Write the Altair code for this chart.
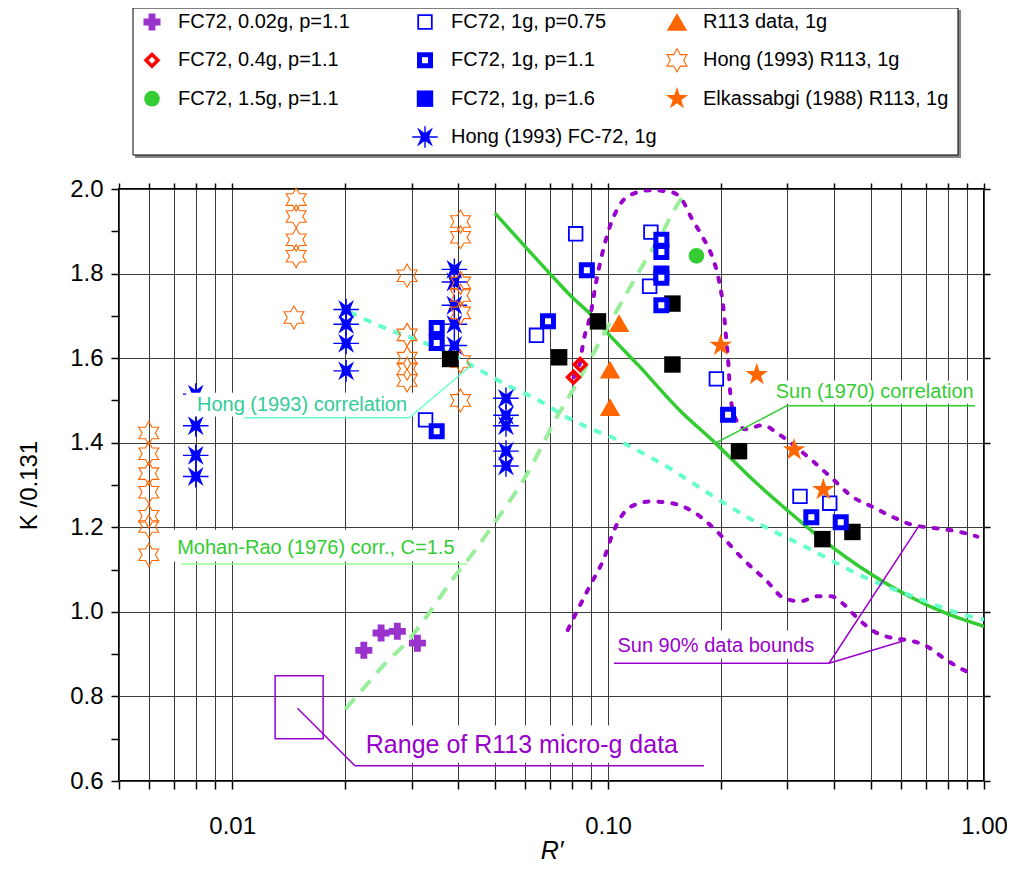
import altair as alt
import pandas as pd

FONT = "Liberation Sans"

# ---------------- data ----------------
# FC72, 0.02g, p=1.1
fc72_002g_R = [0.0224, 0.0249, 0.0275, 0.0311]
fc72_002g_K = [0.909, 0.950, 0.954, 0.926]
# FC72, 0.4g, p=1.1
fc72_04g_R = [0.0809, 0.0843]
fc72_04g_K = [1.555, 1.585]
# FC72, 1.5g, p=1.1
fc72_15g_R = [0.1718]
fc72_15g_K = [1.842]
# FC72, 1g, p=0.75
fc72_075_R = [0.0327, 0.0645, 0.0820, 0.1300, 0.1290, 0.1941, 0.3240, 0.3887]
fc72_075_K = [1.454, 1.654, 1.894, 1.898, 1.770, 1.551, 1.273, 1.257]
# FC72, 1g, p=1.1
fc72_11_R = [0.035, 0.035, 0.035, 0.0692, 0.0878, 0.1386, 0.1386, 0.1386,
             0.1386, 0.1386, 0.2085, 0.3473, 0.4158]
fc72_11_K = [1.671, 1.636, 1.427, 1.687, 1.808, 1.880, 1.851, 1.800,
             1.790, 1.725, 1.466, 1.224, 1.212]
# FC72, 1g, p=1.6
fc72_16_R = [0.0380, 0.0741, 0.0940, 0.1483, 0.1483, 0.2230, 0.3716, 0.4466]
fc72_16_K = [1.598, 1.602, 1.687, 1.729, 1.585, 1.380, 1.172, 1.189]
# Hong (1993) FC-72, 1g
hong_fc72_R = [0.008, 0.008, 0.008, 0.008,
               0.0201, 0.0201, 0.0201, 0.0201,
               0.039, 0.039, 0.039, 0.039, 0.039,
               0.0535, 0.0535, 0.0535, 0.0535, 0.0535]
hong_fc72_K = [1.515, 1.440, 1.370, 1.320,
               1.715, 1.680, 1.635, 1.570,
               1.810, 1.780, 1.725, 1.680, 1.630,
               1.505, 1.465, 1.440, 1.380, 1.345]
# R113 data, 1g
r113_R = [0.1070, 0.1012, 0.1012]
r113_K = [1.683, 1.573, 1.484]
# Hong (1993) R113, 1g
hong_r113_R = [0.0060, 0.0060, 0.0060, 0.0060, 0.0060, 0.0060, 0.0060,
               0.0148, 0.0148, 0.0148, 0.0148, 0.0146,
               0.0292, 0.0292, 0.0292, 0.0292, 0.0292,
               0.0405, 0.0405, 0.0405, 0.0405, 0.0405, 0.0405, 0.0405]
hong_r113_K = [1.423, 1.374, 1.327, 1.283, 1.226, 1.202, 1.135,
               1.975, 1.935, 1.880, 1.841, 1.696,
               1.795, 1.655, 1.600, 1.575, 1.547,
               1.923, 1.886, 1.778, 1.748, 1.707, 1.592, 1.500]
# Elkassabgi (1988) R113, 1g
elk_R = [0.1993, 0.2486, 0.3124, 0.3738]
elk_K = [1.630, 1.561, 1.383, 1.289]

# correlations
sun_R = [0.05, 0.06, 0.07, 0.08, 0.09, 0.10, 0.121, 0.1545, 0.193, 0.2396,
         0.30, 0.353, 0.465, 0.632, 0.80, 1.0]
sun_K = [1.943, 1.865, 1.800, 1.745, 1.703, 1.658, 1.581, 1.478, 1.399, 1.317,
         1.240, 1.187, 1.108, 1.037, 0.995, 0.966]
hong_corr_R = [0.0205, 0.0262, 0.0308, 0.0409, 0.0453, 0.0502, 0.0556, 0.0655,
               0.077, 0.0889, 0.107, 0.1185, 0.148, 0.171, 0.241, 0.347, 0.475,
               0.645, 0.95, 1.0]
hong_corr_K = [1.709, 1.667, 1.644, 1.596, 1.573, 1.551, 1.530, 1.500,
               1.462, 1.435, 1.405, 1.384, 1.336, 1.300, 1.218, 1.147, 1.084,
               1.037, 0.986, 0.982]
mohan_R = [0.020, 0.0222, 0.0256, 0.029, 0.0334, 0.0385, 0.0444, 0.0502, 0.0603,
           0.0741, 0.0837, 0.0966, 0.1114, 0.1256, 0.142, 0.1483, 0.162]
mohan_K = [0.770, 0.816, 0.879, 0.926, 0.997, 1.076, 1.147, 1.214, 1.320,
           1.470, 1.549, 1.651, 1.750, 1.830, 1.910, 1.943, 1.995]
# Sun 90% data bounds
bound_up_R = [0.081, 0.0837, 0.0862, 0.090, 0.0925, 0.0966, 0.1005, 0.107, 0.116,
              0.130, 0.145, 0.155, 0.167, 0.178, 0.189, 0.197, 0.203, 0.206,
              0.209, 0.211, 0.217, 0.232, 0.257, 0.287, 0.320, 0.352, 0.395,
              0.447, 0.503, 0.567, 0.643, 0.74, 0.853, 0.96]
bound_up_K = [1.555, 1.580, 1.644, 1.707, 1.770, 1.849, 1.904, 1.960, 1.988,
              1.997, 1.994, 1.982, 1.930, 1.888, 1.841, 1.786, 1.713, 1.650,
              1.585, 1.525, 1.462, 1.432, 1.441, 1.418, 1.386, 1.355, 1.315,
              1.272, 1.249, 1.226, 1.206, 1.198, 1.190, 1.178]
bound_lo_R = [0.0781, 0.0826, 0.0899, 0.0978, 0.1029, 0.1083, 0.1177, 0.1305,
              0.1478, 0.171, 0.2015, 0.2283, 0.2642, 0.293, 0.3246, 0.36, 0.391,
              0.4245, 0.4609, 0.5114, 0.579, 0.628, 0.696, 0.7867, 0.871, 0.935]
bound_lo_K = [0.957, 1.001, 1.065, 1.129, 1.185, 1.225, 1.253, 1.261,
              1.257, 1.233, 1.177, 1.125, 1.073, 1.033, 1.025, 1.037, 1.037,
              1.017, 0.985, 0.953, 0.937, 0.933, 0.921, 0.889, 0.865, 0.853]

# annotation texts and anchors (data units)
label_texts = ["Hong (1993) correlation", "Mohan-Rao (1976) corr., C=1.5",
               "Sun (1970) correlation", "Sun 90% data bounds",
               "Range of R113 micro-g data"]
label_R = [0.00806, 0.00714, 0.2793, 0.1059, 0.02267]
label_K = [1.490, 1.152, 1.519, 0.919, 0.686]
# white label backgrounds
box_R1 = [0.00755, 0.00693, 0.268, 0.1019, 0.0218]
box_R2 = [0.0303, 0.0419, 0.970, 0.367, 0.175]
box_K1 = [1.518, 1.194, 1.547, 0.956, 0.731]
box_K2 = [1.462, 1.119, 1.492, 0.889, 0.643]
# leader lines (polylines)
lead_hong = [(0.01076, 1.459), (0.0296, 1.459), (0.0435, 1.585)]
lead_mohan = [(0.00732, 1.113), (0.0422, 1.113)]
lead_sun = [(0.946, 1.4876), (0.2993, 1.4876), (0.1934, 1.3994)]
lead_b1 = [(0.1037, 0.8785), (0.387, 0.8785), (0.670, 1.202)]
lead_b2 = [(0.387, 0.8785), (0.619, 0.933)]
lead_range = [(0.180, 0.6363), (0.0212, 0.6363), (0.01492, 0.772)]
range_box_R = [0.01301, 0.01746]
range_box_K = [0.700, 0.849]

# legend
legend_cols = [
    ["FC72, 0.02g, p=1.1", "FC72, 0.4g, p=1.1", "FC72, 1.5g, p=1.1"],
    ["FC72, 1g, p=0.75", "FC72, 1g, p=1.1", "FC72, 1g, p=1.6", "Hong (1993) FC-72, 1g"],
    ["R113 data, 1g", "Hong (1993) R113, 1g", "Elkassabgi (1988) R113, 1g"],
]

# ---------------- styling ----------------
BLUE, ORANGE, PURPLE = "#0000FF", "#FF6600", "#9900CC"
HEXAGRAM = ("M0,-1L0.2887,-0.5L0.866,-0.5L0.577,0L0.866,0.5L0.2887,0.5L0,1"
            "L-0.2887,0.5L-0.866,0.5L-0.577,0L-0.866,-0.5L-0.2887,-0.5Z")
ASTER = ("M0,-0.3L0.62,-0.74L0.3,0L0.62,0.74L0,0.3L-0.62,0.74L-0.3,0L-0.62,-0.74Z"
         "M-1,-0.055L1,-0.055L1,0.055L-1,0.055Z"
         "M-0.055,-0.85L0.055,-0.85L0.055,0.85L-0.055,0.85Z")
STAR5 = ("M0,-1L0.2245,-0.309L0.9511,-0.309L0.3633,0.118L0.5878,0.809L0,0.382"
         "L-0.5878,0.809L-0.3633,0.118L-0.9511,-0.309L-0.2245,-0.309Z")

S_CROSS = dict(shape="cross", size=290, filled=True, color="#9933CC")
S_DIAM = dict(shape="diamond", size=140, filled=False, color="#FF0000", strokeWidth=3.5)
S_CIRC = dict(shape="circle", size=245, filled=True, color="#33CC33")
S_SQ_THIN = dict(shape="square", size=185, filled=False, color=BLUE, strokeWidth=1.8, fill="white")
S_SQ_THICK = dict(shape="square", size=121, filled=False, color=BLUE, strokeWidth=5, fill="white")
S_SQ_BLACK = dict(shape="square", size=270, filled=True, color="#000000")
S_SQ_BLUE = dict(shape="square", size=270, filled=True, color=BLUE)
S_ASTER = dict(shape=ASTER, size=650, filled=True, color=BLUE)
S_TRI = dict(shape="triangle-up", size=420, filled=True, color=ORANGE)
S_HEX = dict(shape=HEXAGRAM, size=530, filled=False, color=ORANGE, strokeWidth=1.1)
S_STAR = dict(shape=STAR5, size=560, filled=True, color=ORANGE)

XS = alt.Scale(type="log", domain=[0.005, 1.0], nice=False)
YS = alt.Scale(type="linear", domain=[0.6, 2.0], nice=False, zero=False)

X_GRID = [round(m * 10.0 ** e, 4) for e in (-3, -2, -1) for m in range(1, 10)
          if m * 10.0 ** e > 0.0049] + [1.0]
Y_TICKS = [round(0.6 + 0.1 * i, 1) for i in range(15)]
Y_MAJOR = [round(0.6 + 0.2 * i, 1) for i in range(8)]

axis_bottom = alt.Axis(
    orient="bottom", values=X_GRID, grid=True, gridColor="#3c3c3c", gridWidth=1,
    domain=False, tickColor="black", tickWidth=1.5, tickSize=8,
    labelExpr="datum.value == 0.01 ? '0.01' : datum.value == 0.1 ? '0.10' : datum.value == 1 ? '1.00' : ''",
    labelFontSize=24, labelColor="black", labelPadding=25, labelOverlap=False,
    labelFlush=False, title="R′", titleFontSize=25, titleFontStyle="italic",
    titleFontWeight="normal", titleColor="black", titlePadding=0)
axis_left = alt.Axis(
    orient="left", values=Y_TICKS, grid=False,
    domain=False, tickColor="black", tickWidth=1.5, tickSize=8,
    labelExpr="(abs(datum.value * 5 - round(datum.value * 5)) < 0.001) ? format(datum.value, '.1f') : ''",
    labelFontSize=24, labelColor="black", labelPadding=8, labelOverlap=False,
    labelFlush=False, title="K /0.131", titleFontSize=24, titleFontWeight="normal",
    titleColor="black", titlePadding=28)
axis_top = alt.Axis(
    orient="top", values=X_GRID, grid=False, domain=False, labels=False, title=None,
    tickColor="black", tickWidth=1.5, tickSize=6)
axis_right = alt.Axis(
    orient="right", values=Y_MAJOR, grid=True, gridColor="#3c3c3c", gridWidth=1,
    domain=False, labels=False, title=None,
    tickColor="black", tickWidth=1.5, tickSize=6)


def frame(R, K):
    return pd.DataFrame({"R": R, "K": K})


def xy(ax=None, ay=None):
    return dict(x=alt.X("R:Q", scale=XS, axis=ax), y=alt.Y("K:Q", scale=YS, axis=ay))


def curve(R, K, color, width, dash=None, cap="butt", ax=None, ay=None):
    kw = dict(color=color, strokeWidth=width, interpolate="monotone", strokeCap=cap, clip=True)
    if dash:
        kw["strokeDash"] = dash
    return alt.Chart(frame(R, K)).mark_line(**kw).encode(**xy(ax, ay))


def points(R, K, style):
    return alt.Chart(frame(R, K)).mark_point(opacity=1, **style).encode(**xy())


def leader(pts, color):
    segs = pd.DataFrame({"x1": [p[0] for p in pts[:-1]], "x2": [p[0] for p in pts[1:]],
                         "y1": [p[1] for p in pts[:-1]], "y2": [p[1] for p in pts[1:]]})
    return alt.Chart(segs).mark_rule(color=color, strokeWidth=1.5).encode(
        x=alt.X("x1:Q", scale=XS, axis=None), x2="x2:Q",
        y=alt.Y("y1:Q", scale=YS, axis=None), y2="y2:Q")


def label(i, color, size):
    d = pd.DataFrame({"R": [label_R[i]], "K": [label_K[i]], "t": [label_texts[i]]})
    return alt.Chart(d).mark_text(align="left", baseline="middle", font=FONT,
                                  fontSize=size, color=color).encode(text="t:N", **xy())


boxes = alt.Chart(pd.DataFrame({"x1": box_R1, "x2": box_R2, "y1": box_K1, "y2": box_K2})).mark_rect(
    fill="white").encode(x=alt.X("x1:Q", scale=XS, axis=None), x2="x2:Q",
                         y=alt.Y("y1:Q", scale=YS, axis=None), y2="y2:Q")
range_box = alt.Chart(pd.DataFrame({"x1": [range_box_R[0]], "x2": [range_box_R[1]],
                                    "y1": [range_box_K[0]], "y2": [range_box_K[1]]})).mark_rect(
    fill="white", fillOpacity=0, stroke=PURPLE, strokeWidth=1.5).encode(
    x=alt.X("x1:Q", scale=XS, axis=None), x2="x2:Q",
    y=alt.Y("y1:Q", scale=YS, axis=None), y2="y2:Q")

main = alt.layer(
    curve(sun_R, sun_K, "#33CC33", 3.5, ax=axis_bottom, ay=axis_left),
    curve(mohan_R, mohan_K, "#99EE99", 4, dash=[14, 10], ax=axis_top, ay=axis_right),
    curve(hong_corr_R, hong_corr_K, "#66FFCC", 4, dash=[8, 8]),
    curve(bound_up_R, bound_up_K, PURPLE, 4, dash=[4, 10], cap="round"),
    curve(bound_lo_R, bound_lo_K, PURPLE, 4, dash=[4, 10], cap="round"),
    points(hong_fc72_R, hong_fc72_K, S_ASTER),
    points(hong_r113_R, hong_r113_K, S_HEX),
    points(fc72_16_R, fc72_16_K, S_SQ_BLACK),
    points(fc72_075_R, fc72_075_K, S_SQ_THIN),
    points(fc72_11_R, fc72_11_K, S_SQ_THICK),
    points(fc72_04g_R, fc72_04g_K, S_DIAM),
    points(fc72_15g_R, fc72_15g_K, S_CIRC),
    points(fc72_002g_R, fc72_002g_K, S_CROSS),
    points(r113_R, r113_K, S_TRI),
    points(elk_R, elk_K, S_STAR),
    range_box,
    boxes,
    leader(lead_hong, "#66FFCC"),
    leader(lead_mohan, "#99FF99"),
    leader(lead_sun, "#33CC33"),
    leader(lead_b1, PURPLE),
    leader(lead_b2, PURPLE),
    leader(lead_range, PURPLE),
    label(0, "#33CC99", 20),
    label(1, "#33CC33", 20),
    label(2, "#33CC33", 20),
    label(3, PURPLE, 20),
    label(4, PURPLE, 25),
).resolve_axis(x="independent", y="independent")

# ---------------- legend (own scales, drawn above the plot) ----------------
LXS = alt.Scale(type="linear", domain=[0, 1, 2], range=[33, 306, 558])
LYS = alt.Scale(type="linear", domain=[0, 3], range=[-167, -52], zero=False, nice=False)
legend_styles = [[S_CROSS, S_DIAM, S_CIRC],
                 [S_SQ_THIN, S_SQ_THICK, S_SQ_BLUE, S_ASTER],
                 [S_TRI, S_HEX, S_STAR]]

leg_layers = [
    alt.Chart(pd.DataFrame({"a": [0]})).mark_rect(fill="#888888").encode(
        x=alt.value(16), x2=alt.value(842), y=alt.value(-179), y2=alt.value(-31)),
    alt.Chart(pd.DataFrame({"a": [0]})).mark_rect(fill="white", stroke="black", strokeWidth=1).encode(
        x=alt.value(14), x2=alt.value(839), y=alt.value(-181), y2=alt.value(-34)),
]
rows = []
for c, col in enumerate(legend_cols):
    for r, txt in enumerate(col):
        rows.append({"c": c, "r": r, "t": txt})
        leg_layers.append(
            alt.Chart(pd.DataFrame({"c": [c], "r": [r]})).mark_point(opacity=1, **legend_styles[c][r]).encode(
                x=alt.X("c:Q", scale=LXS, axis=None), y=alt.Y("r:Q", scale=LYS, axis=None)))
leg_layers.append(
    alt.Chart(pd.DataFrame(rows)).mark_text(align="left", baseline="middle", dx=26, font=FONT,
                                            fontSize=20, color="black").encode(
        x=alt.X("c:Q", scale=LXS, axis=None), y=alt.Y("r:Q", scale=LYS, axis=None), text="t:N"))
legend = alt.layer(*leg_layers)

chart = alt.layer(main, legend).resolve_scale(x="independent", y="independent").properties(
    width=865, height=592,
    padding={"left": 111, "top": 181, "right": 23, "bottom": 84},
    autosize=alt.AutoSizeParams(type="none"),
).configure(font=FONT).configure_view(stroke="black", strokeWidth=2)

chart.save("out.html", embed_options={"renderer": "svg", "actions": False})
